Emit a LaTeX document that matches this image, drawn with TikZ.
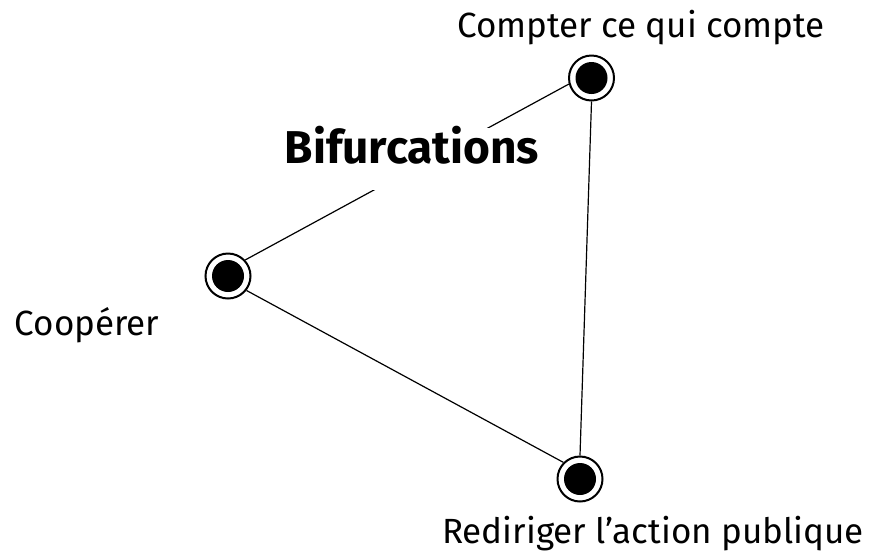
\documentclass[tikz,border=0pt]{standalone}
\usepackage{fontspec}
\setmainfont{Fira Sans}
\begin{document}
\begin{tikzpicture}[x=1pt,y=-1pt,
  hub/.style={circle,draw,line width=2pt,minimum size=45pt,inner sep=0pt,
    path picture={\fill (path picture bounding box.center) circle (16pt);}},
  lbl/.style={font=\fontsize{35}{42}\selectfont,inner sep=0pt,anchor=base},
  link/.style={line width=1.2pt}]
\useasboundingbox (0,0) rectangle (875,558);
\node[hub] (top) at (591.5,78) {};
\node[hub] (left) at (228,276) {};
\node[hub] (bot) at (580,479) {};
\draw[link] (left.43) -- (top.195);
\draw[link] (top.south) -- (bot.north);
\draw[link] (left.-38) -- (bot.135);
\node[fill=white,inner sep=0pt,text height=35pt,text depth=27pt,anchor=base,
  font=\bfseries\fontsize{46}{55}\selectfont] (title) at (412,163) {Bifurcations};
\node[lbl] (ltop) at (641,37) {Compter ce qui compte};
\node[lbl] (lleft) at (87,335) {Coopérer};
\node[lbl] (lbot) at (653,543) {Rediriger l’action publique};
\end{tikzpicture}
\end{document}
